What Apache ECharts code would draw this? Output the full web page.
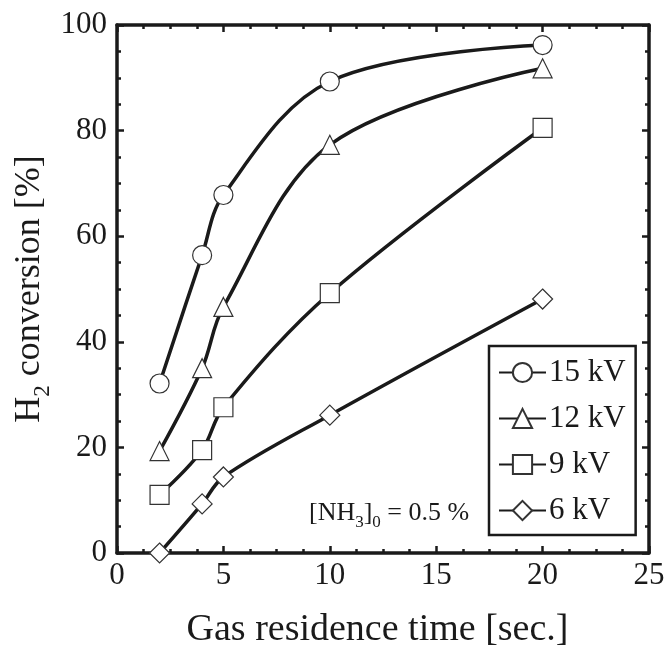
<!DOCTYPE html>
<html>
<head>
<meta charset="utf-8">
<script src="https://cdn.jsdelivr.net/npm/echarts@6/dist/echarts.min.js"></script>
<style>
html,body{margin:0;padding:0;background:#fff;}
#chart{width:672px;height:654px;}
</style>
</head>
<body>
<div id="chart"></div>
<script>
var residenceTime = [2, 4, 5, 10, 20];
var kv15 = [32.1, 56.4, 67.8, 89.3, 96.2];
var kv12 = [19.3, 35.0, 46.6, 77.3, 91.8];
var kv9 = [11.0, 19.5, 27.6, 49.2, 80.5];
var kv6 = [0, 9.3, 14.4, 26.1, 48.1];
var seriesNames = ['15 kV', '12 kV', '9 kV', '6 kV'];
var seriesSymbols = ['circle', 'triangle', 'rect', 'diamond'];
var xTicks = [0, 5, 10, 15, 20, 25];
var yTicks = [0, 20, 40, 60, 80, 100];

var FONT = 'Liberation Serif';
var INK = '#1a1a1a';

function pairs(ys) {
  return residenceTime.map(function (x, i) { return [x, ys[i]]; });
}
var allValues = [kv15, kv12, kv9, kv6];

function axisBase(extra) {
  var base = {
    type: 'value',
    axisLine: { show: true, onZero: false, lineStyle: { color: INK, width: 3.5 } },
    axisTick: { show: true, inside: true, length: 7, lineStyle: { color: INK, width: 2.5 } },
    minorTick: { show: true, splitNumber: 4, length: 4, lineStyle: { color: INK, width: 2.5 } },
    splitLine: { show: false },
    minorSplitLine: { show: false }
  };
  for (var k in extra) base[k] = extra[k];
  return base;
}

var chart = echarts.init(document.getElementById('chart'));
var option = {
  backgroundColor: '#fff',
  animation: false,
  grid: { left: 117, top: 25, right: 23, bottom: 98, containLabel: false },
  xAxis: [
    axisBase({
      min: xTicks[0], max: xTicks[xTicks.length - 1], interval: 5,
      position: 'bottom',
      axisLabel: { show: true, color: INK, fontFamily: FONT, fontSize: 31, margin: 7 },
      name: 'Gas residence time [sec.]',
      nameLocation: 'middle', nameGap: 58, nameMoveOverlap: false,
      nameTextStyle: { color: INK, fontFamily: FONT, fontSize: 38, padding: [0, 11, 0, 0] }
    }),
    axisBase({
      min: xTicks[0], max: xTicks[xTicks.length - 1], interval: 5,
      position: 'top',
      axisLabel: { show: false }
    })
  ],
  yAxis: [
    axisBase({
      min: yTicks[0], max: yTicks[yTicks.length - 1], interval: 20,
      position: 'left',
      axisLabel: { show: true, color: INK, fontFamily: FONT, fontSize: 31, margin: 10 },
      name: '{n|H}{sub|2}{n| conversion [%]}',
      nameLocation: 'middle', nameGap: 63, nameMoveOverlap: false,
      nameTextStyle: {
        color: INK, fontFamily: FONT, fontSize: 36,
        rich: {
          n: { fontFamily: FONT, fontSize: 36, lineHeight: 48, color: INK },
          sub: { fontFamily: FONT, fontSize: 23, lineHeight: 23, verticalAlign: 'bottom', color: INK }
        }
      }
    }),
    axisBase({
      min: yTicks[0], max: yTicks[yTicks.length - 1], interval: 20,
      position: 'right',
      axisLabel: { show: false }
    })
  ],
  legend: {
    show: true,
    orient: 'vertical',
    left: 489, top: 346,
    padding: [11, 10, 9, 9],
    itemGap: 15,
    itemWidth: 47, itemHeight: 24,
    borderColor: INK, borderWidth: 2.5,
    backgroundColor: '#fff',
    align: 'left',
    textStyle: { color: INK, fontFamily: FONT, fontSize: 31, padding: [0, 0, 0, -2] },
    data: seriesNames
  },
  graphic: [{
    type: 'text',
    left: 309, top: 500,
    style: {
      text: '{n|[NH}{sub|3}{n|]}{sub|0}{n| = 0.5 %}',
      fill: INK,
      rich: {
        n: { fontFamily: FONT, fontSize: 26, lineHeight: 36, fill: INK },
        sub: { fontFamily: FONT, fontSize: 17, lineHeight: 17, verticalAlign: 'bottom', fill: INK }
      }
    }
  }],
  series: seriesNames.map(function (name, i) {
    return {
      name: name,
      type: 'line',
      xAxisIndex: 0, yAxisIndex: 0,
      data: pairs(allValues[i]),
      smooth: 0.35,
      symbol: seriesSymbols[i],
      symbolSize: seriesSymbols[i] === 'diamond' ? 20 : 19,
      showAllSymbol: true,
      lineStyle: { color: INK, width: 3.5 },
      itemStyle: { color: '#fff', borderColor: '#333', borderWidth: 1.2 },
      emphasis: { disabled: true }
    };
  })
};
chart.setOption(option);
</script>
</body>
</html>
